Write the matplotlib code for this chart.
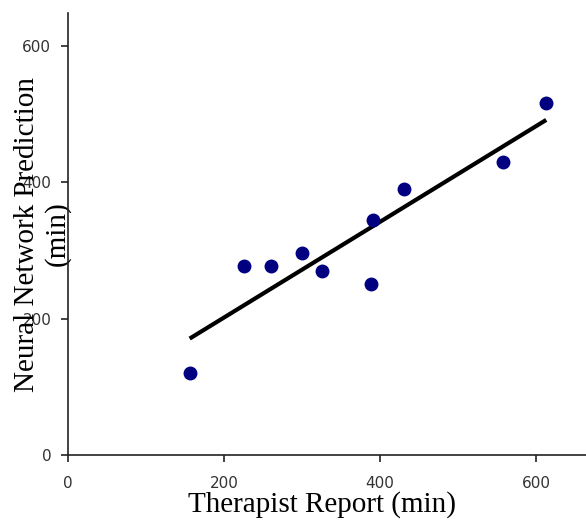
import numpy as np
import matplotlib
matplotlib.use('Agg')
import matplotlib.pyplot as plt

# values
therapist = [156, 225, 260, 300, 326, 388, 391, 431, 558, 613]
network = [120, 277, 277, 296, 270, 251, 345, 390, 430, 516]
ticks = [0, 200, 400, 600]

fig = plt.figure(figsize=(5.86, 5.23), dpi=100)
ax = fig.add_axes([0.116, 0.130, 0.884, 0.845])

ax.scatter(therapist, network, s=100, color='#000080', zorder=3, linewidths=0)

# linear trendline over the data range
k, b = np.polyfit(therapist, network, 1)
xs = np.array([min(therapist), max(therapist)])
ax.plot(xs, k*xs + b, color='black', lw=3, solid_capstyle='butt', zorder=2)

ax.set_xlim(0, 664)
ax.set_ylim(0, 648)
ax.set_xticks(ticks)
ax.set_yticks(ticks)

for s in ['top', 'right']:
    ax.spines[s].set_visible(False)
for s in ['left', 'bottom']:
    ax.spines[s].set_color('#222222')
    ax.spines[s].set_linewidth(1.2)

ax.tick_params(axis='both', direction='out', length=5, width=1.2,
               color='#222222', labelcolor='#333333', labelsize=11)
ax.tick_params(axis='x', pad=10)
ax.tick_params(axis='y', pad=7)
for lab in ax.get_xticklabels() + ax.get_yticklabels():
    lab.set_family('DejaVu Sans')

ax.set_xlabel('Therapist Report (min)', family='Liberation Serif', fontsize=21)
ax.xaxis.set_label_coords(0.49, -0.082)
ax.set_ylabel('Neural Network Prediction\n(min)', family='Liberation Serif', fontsize=21,
              linespacing=1.2)
ax.yaxis.set_label_coords(0.006, 0.50)

fig.savefig('out.png', dpi=100)
